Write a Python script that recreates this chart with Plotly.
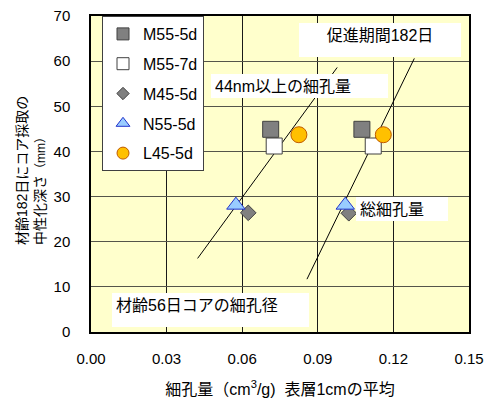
import plotly.graph_objects as go

# Series: pore volume (cm3/g, surface 1 cm average) vs carbonation depth (mm)
series_names = ["M55-5d", "M55-7d", "M45-5d", "N55-5d", "L45-5d"]
# first value: pores >= 44 nm, second value: total pore volume
pore_m55_5d = [0.0713, 0.1075]
pore_m55_7d = [0.0727, 0.1120]
pore_m45_5d = [0.0624, 0.1023]
pore_n55_5d = [0.0575, 0.1009]
pore_l45_5d = [0.0825, 0.1160]
depth_m55_5d = [44.9, 44.9]
depth_m55_7d = [41.2, 41.2]
depth_m45_5d = [26.4, 26.3]
depth_n55_5d = [28.1, 28.1]
depth_l45_5d = [43.7, 43.7]

# Trend lines
coarse_line_x = [0.0423, 0.0977]
coarse_line_y = [16.3, 58.6]
total_line_x = [0.0857, 0.1283]
total_line_y = [11.7, 60.6]

x_ticks = [0.00, 0.03, 0.06, 0.09, 0.12, 0.15]
y_ticks = [0, 10, 20, 30, 40, 50, 60, 70]

FONT = "Arial, 'Liberation Sans', 'Noto Sans CJK JP', sans-serif"

styles = [
    dict(symbol="square", color="#808080", line=dict(color="#404040", width=1), size=16, lsize=12),
    dict(symbol="square", color="#FFFFFF", line=dict(color="#404040", width=1), size=16, lsize=12),
    dict(symbol="diamond", color="#808080", line=dict(color="#404040", width=1), size=12, lsize=9.5),
    dict(symbol="triangle-up", color="#99CCFF", line=dict(color="#2233CC", width=1), size=16, lsize=12),
    dict(symbol="circle", color="#FFC000", line=dict(color="#C05A00", width=1), size=16, lsize=12),
]
xs = [pore_m55_5d, pore_m55_7d, pore_m45_5d, pore_n55_5d, pore_l45_5d]
ys = [depth_m55_5d, depth_m55_7d, depth_m45_5d, depth_n55_5d, depth_l45_5d]

fig = go.Figure()

for lx, ly in [(coarse_line_x, coarse_line_y), (total_line_x, total_line_y)]:
    fig.add_trace(go.Scatter(x=lx, y=ly, mode="lines", line=dict(color="black", width=1),
                             showlegend=False, hoverinfo="skip"))

for name, st, x, y in zip(series_names, styles, xs, ys):
    fig.add_trace(go.Scatter(
        x=x, y=y, mode="markers", name=name, showlegend=False, legendgroup=name,
        marker=dict(symbol=st["symbol"], color=st["color"], size=st["size"], line=st["line"]),
    ))
    # legend entry with the smaller key symbol
    fig.add_trace(go.Scatter(
        x=[None], y=[None], mode="markers", name=name, legendgroup=name,
        marker=dict(symbol=st["symbol"], color=st["color"], size=st["lsize"], line=st["line"]),
    ))

L, R, T, B = 91, 27, 16, 66
W, H = 496, 398
PW, PH = W - L - R, H - T - B


def paper(px, py):
    return (px - L) / PW, (H - B - py) / PH


def label_box(text, x0, y0, x1, y1, align="left", valign="middle"):
    cx, cy = paper((x0 + x1) / 2, (y0 + y1) / 2)
    pad = 4
    return dict(text=text, xref="paper", yref="paper", x=cx, y=cy,
                xanchor="center", yanchor="middle", showarrow=False,
                width=(x1 - x0) - 2 * pad, height=(y1 - y0) - 2 * pad,
                align=align, valign=valign, borderpad=pad, borderwidth=0,
                bgcolor="white", font=dict(family=FONT, size=16, color="black"))


annotations = [
    label_box("促進期間182日", 299, 23, 461, 57, align="center", valign="top"),
    label_box("44nm以上の細孔量", 211, 74, 388, 98),
    label_box("総細孔量", 356, 197, 448, 221),
    label_box("材齢56日コアの細孔径", 112, 293, 309, 327, valign="top"),
]

ytx, yty = paper(31, 171)
annotations.append(dict(
    text="材齢182日にコア採取の<br>中性化深さ<span style='font-size:12px'>（mm）</span>",
    xref="paper", yref="paper", x=ytx, y=yty, xanchor="center", yanchor="middle",
    textangle=-90, showarrow=False, align="left",
    font=dict(family=FONT, size=14, color="black"),
))

fig.update_layout(
    width=W, height=H,
    margin=dict(l=L, r=R, t=T, b=B, pad=0, autoexpand=False),
    paper_bgcolor="white", plot_bgcolor="#FFFFCC",
    font=dict(family=FONT, size=15, color="black"),
    showlegend=True,
    legend=dict(
        x=paper(102, 0)[0], y=1.0, xanchor="left", yanchor="top",
        bgcolor="white", bordercolor="#404040", borderwidth=1,
        font=dict(family=FONT, size=16, color="black"),
        tracegroupgap=6, itemsizing="trace",
    ),
    annotations=annotations,
)

fig.update_xaxes(
    range=[0, 0.15], tickvals=x_ticks, tickformat=".2f", automargin=False,
    showgrid=True, gridcolor="#1a1a1a", gridwidth=1,
    showline=True, linecolor="black", linewidth=1.5, mirror=True,
    zeroline=False, ticks="", ticklabelstandoff=12,
    title=dict(text="細孔量（cm<sup>3</sup>/g)  表層1cmの平均",
               font=dict(family=FONT, size=16, color="black"), standoff=18),
)
fig.update_yaxes(
    range=[0, 70], tickvals=y_ticks, automargin=False,
    showgrid=True, gridcolor="#55554a", gridwidth=1,
    showline=True, linecolor="black", linewidth=1.5, mirror=True,
    zeroline=False, ticks="", ticklabelstandoff=16,
)

fig.write_html("out.html")
